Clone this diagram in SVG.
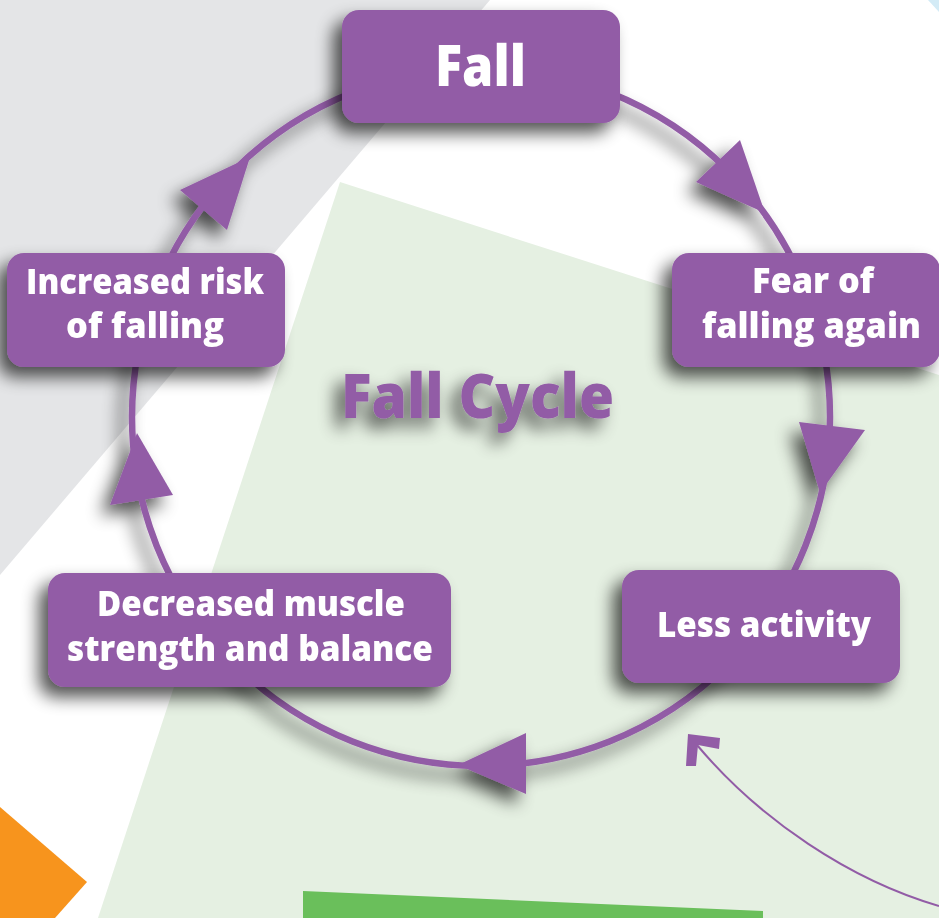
<svg xmlns="http://www.w3.org/2000/svg" width="939" height="918" viewBox="0 0 939 918">
<defs>
<filter id="sh" x="-30%" y="-30%" width="160%" height="160%">
<feGaussianBlur in="SourceAlpha" stdDeviation="8.5"/>
<feOffset dx="-9" dy="10" result="b"/>
<feComponentTransfer><feFuncA type="linear" slope="0.68"/></feComponentTransfer>
<feMerge><feMergeNode/><feMergeNode in="SourceGraphic"/></feMerge>
</filter>
<style>
.box{fill:#925ca6}
.lbl{font-family:"Open Sans","Noto Sans","DejaVu Sans",sans-serif;font-weight:800;fill:#ffffff;text-anchor:middle}
.t36{font-size:35px}
.arc{fill:none;stroke:#925ca6;stroke-width:6.5}
.head{fill:#925ca6}
</style>
</defs>
<rect x="0" y="0" width="939" height="918" fill="#ffffff"/>
<polygon points="0,0 490,0 0,575" fill="#e4e5e7"/>
<polygon points="928,0 939,0 939,12" fill="#d3ebf6"/>
<polygon points="340,182 939,375 939,918 98,918" fill="#e5f0e2"/>
<polygon points="0,807 87,882 55,918 0,918" fill="#f7941d"/>
<polygon points="303,891 763,911 763,918 303,918" fill="#6abf5b"/>

<g id="connectors">
<g filter="url(#sh)">
<circle class="arc" cx="481" cy="417" r="349"/>
<polygon class="head" points="740,140 696,182 765,213"/>
<polygon class="head" points="799,422 865,430 820,493"/>
<polygon class="head" points="526,733 526,794 458,765"/>
<polygon class="head" points="110,505 173,495 137,433"/>
<polygon class="head" points="180,190 227,230 250,157"/>
</g>
<path d="M 939 906 C 850 880 760 820 697 745" fill="none" stroke="#925ca6" stroke-width="2"/>
<polygon class="head" points="688,734 720,738 719,749 698,745 696,766 686,766"/>
</g>

<g id="title" filter="url(#sh)">
<text x="477.5" y="418" font-family="'Open Sans','Noto Sans',sans-serif" font-weight="800" font-size="62" fill="#925ca6" text-anchor="middle" textLength="273" lengthAdjust="spacingAndGlyphs">Fall Cycle</text>
</g>

<g id="node-fall" filter="url(#sh)">
<rect class="box" x="342" y="10" width="278" height="113" rx="17"/>
<text class="lbl" x="480.5" y="86" font-size="57" textLength="91" lengthAdjust="spacingAndGlyphs">Fall</text>
</g>

<g id="node-fear" filter="url(#sh)">
<rect class="box" x="672" y="253" width="268" height="114" rx="17"/>
<text class="lbl t36" x="813" y="293" textLength="122" lengthAdjust="spacingAndGlyphs">Fear of</text>
<text class="lbl t36" x="811.5" y="338" textLength="219" lengthAdjust="spacingAndGlyphs">falling again</text>
</g>

<g id="node-less" filter="url(#sh)">
<rect class="box" x="622" y="570" width="278" height="113" rx="17"/>
<text class="lbl t36" x="764" y="637" textLength="214" lengthAdjust="spacingAndGlyphs">Less activity</text>
</g>

<g id="node-decreased" filter="url(#sh)">
<rect class="box" x="48" y="573" width="403" height="114" rx="17"/>
<text class="lbl t36" x="251" y="616" textLength="308" lengthAdjust="spacingAndGlyphs">Decreased muscle</text>
<text class="lbl t36" x="250" y="661" textLength="366" lengthAdjust="spacingAndGlyphs">strength and balance</text>
</g>

<g id="node-risk" filter="url(#sh)">
<rect class="box" x="7" y="253" width="278" height="114" rx="17"/>
<text class="lbl t36" x="145" y="294" textLength="238" lengthAdjust="spacingAndGlyphs">Increased risk</text>
<text class="lbl t36" x="145" y="338" textLength="158" lengthAdjust="spacingAndGlyphs">of falling</text>
</g>
</svg>
